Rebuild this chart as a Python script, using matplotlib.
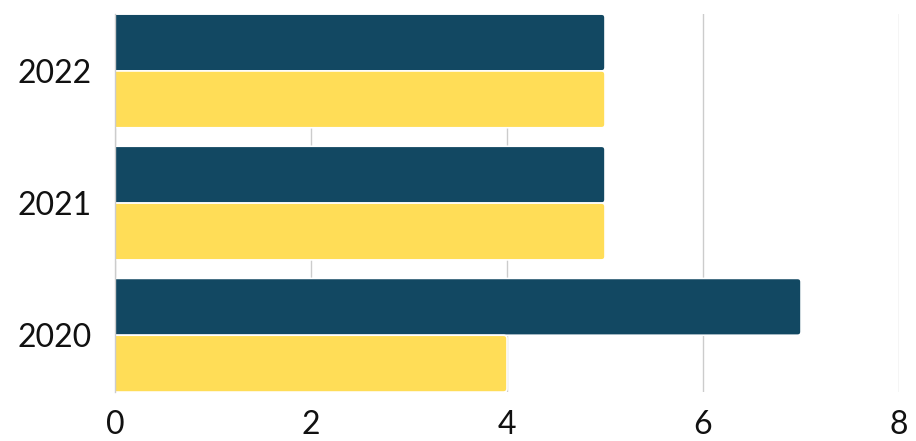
import numpy as np
import matplotlib
matplotlib.use('Agg')
import matplotlib.pyplot as plt
from matplotlib.patches import FancyBboxPatch

years = ['2020', '2021', '2022']
dark_vals = [7, 5, 5]
yellow_vals = [4, 5, 5]
x_ticks = [0, 2, 4, 6, 8]

DARK = '#124862'
YELLOW = '#FFDD57'

plt.rcParams['font.family'] = ['Lato', 'DejaVu Sans']

fig = plt.figure(figsize=(9.16, 4.41), dpi=100)
ax = fig.add_axes([0.1255, 0.111, 0.856, 0.857])

y = np.arange(len(years))
h = 0.43
ax.set_xlim(0, 8)
ax.set_ylim(-0.43, 2.43)

# corner radius in px -> data units
rx = 3.5 / 98.0
ry = 3.5 / 132.5


def rbar(yc, w, height, color):
    box = FancyBboxPatch((-0.1, yc), w + 0.1, height,
                         boxstyle=f'round,pad=0,rounding_size={rx}',
                         mutation_aspect=ry / rx,
                         facecolor=color, edgecolor='white', linewidth=1.2,
                         zorder=3)
    ax.add_patch(box)


for yi, dv, yv in zip(y, dark_vals, yellow_vals):
    rbar(yi, dv, h, DARK)
    rbar(yi - h, yv, h, YELLOW)

ax.set_yticks(y)
ax.set_yticklabels(years, fontsize=23, color='#111111')
ax.set_xticks(x_ticks)
ax.set_xticklabels([str(t) for t in x_ticks], fontsize=23, color='#111111')
ax.tick_params(axis='both', length=0)
ax.tick_params(axis='y', pad=17)
ax.tick_params(axis='x', pad=13)

ax.grid(axis='x', color='#cccccc', linewidth=1, zorder=0)
ax.set_axisbelow(True)
for s in ['top', 'right', 'bottom']:
    ax.spines[s].set_visible(False)
ax.spines['left'].set_color('#cccccc')
ax.spines['left'].set_linewidth(1)
ax.spines['left'].set_zorder(4)

fig.savefig('out.png', dpi=100)
